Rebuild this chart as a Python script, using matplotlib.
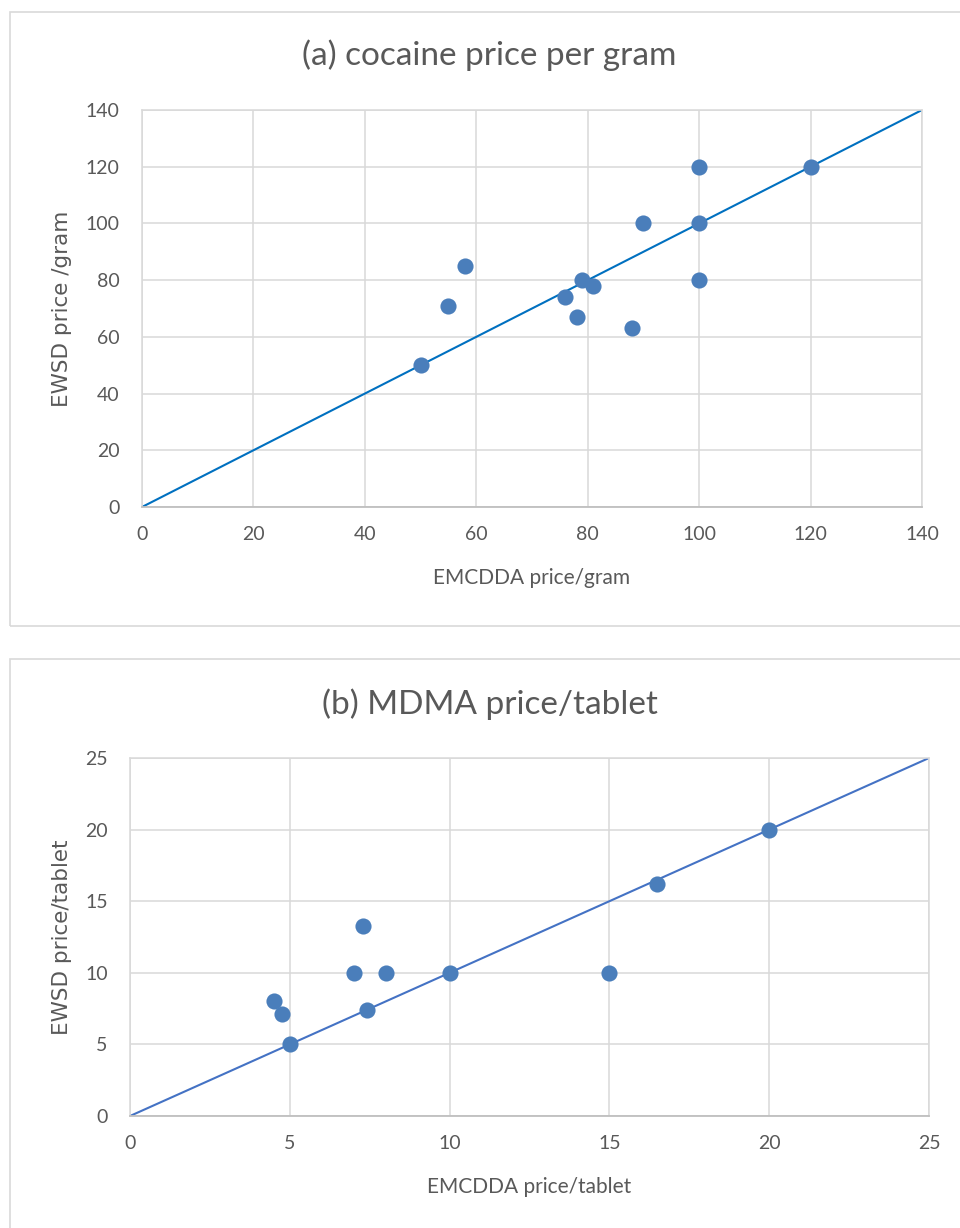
import matplotlib
matplotlib.use("Agg")
import matplotlib.pyplot as plt
from matplotlib.patches import Rectangle

# (a) cocaine price per gram
coke_emcdda = [50, 55, 58, 76, 78, 79, 81, 88, 90, 100, 100, 100, 120]
coke_ewsd = [50, 71, 85, 74, 67, 80, 78, 63, 100, 120, 100, 80, 120]
coke_ticks = [0, 20, 40, 60, 80, 100, 120, 140]

# (b) MDMA price per tablet
mdma_emcdda = [4.5, 4.75, 5, 7, 7.3, 7.4, 8, 10, 15, 16.5, 20]
mdma_ewsd = [8, 7.1, 5, 10, 13.3, 7.4, 10, 10, 10, 16.2, 20]
mdma_ticks = [0, 5, 10, 15, 20, 25]

TXT = "#595959"
GRID = "#d9d9d9"
DOT = "#4a7ebb"
FONT = ["Lato", "DejaVu Sans"]

plt.rcParams["font.family"] = FONT

W, H = 960, 1228
fig = plt.figure(figsize=(W / 100, H / 100), dpi=100)


def px_axes(x0, y0, x1, y1):
    return fig.add_axes([x0 / W, 1 - y1 / H, (x1 - x0) / W, (y1 - y0) / H])


def frame(y0, y1):
    fig.patches.append(Rectangle((10 / W, 1 - y1 / H), 960 / W, (y1 - y0) / H,
                                 transform=fig.transFigure, fill=False,
                                 edgecolor=GRID, lw=1.2))


def style(ax, ticks, line_col, title, xlabel, ylabel, title_y, xlab_y, ylab_x):
    lo, hi = ticks[0], ticks[-1]
    ax.plot([lo, hi], [lo, hi], color=line_col, lw=1.5, zorder=2)
    ax.set_xlim(lo, hi); ax.set_ylim(lo, hi)
    ax.set_xticks(ticks); ax.set_yticks(ticks)
    ax.grid(True, color=GRID, lw=1.1, zorder=0)
    ax.set_axisbelow(True)
    for s in ["top", "right", "left"]:
        ax.spines[s].set_color(GRID); ax.spines[s].set_linewidth(1.1)
    ax.spines["bottom"].set_color("#bfbfbf"); ax.spines["bottom"].set_linewidth(1.3)
    ax.tick_params(length=0, labelsize=14, labelcolor=TXT)
    ax.tick_params(axis="x", pad=14)
    ax.tick_params(axis="y", pad=16)
    fig.text(0.51, 1 - title_y / H, title, ha="center", va="center",
             fontsize=24, color=TXT)
    fig.text(0.5 * (ax.get_position().x0 + ax.get_position().x1), 1 - xlab_y / H,
             xlabel, ha="center", va="center", fontsize=15, color=TXT)
    fig.text(ylab_x / W, 0.5 * (ax.get_position().y0 + ax.get_position().y1),
             ylabel, ha="center", va="center", rotation=90, fontsize=15.5,
             color=TXT, family="DejaVu Sans")


frame(12, 626)
ax = px_axes(142, 110, 922, 507)
ax.scatter(coke_emcdda, coke_ewsd, s=135, color=DOT, zorder=3, linewidths=0)
style(ax, coke_ticks, "#0070c0", "(a) cocaine price per gram",
      "EMCDDA price/gram", "EWSD price /gram", 55, 578, 62)

frame(659, 1240)
ax = px_axes(130, 758, 929, 1116)
ax.scatter(mdma_emcdda, mdma_ewsd, s=135, color=DOT, zorder=3, linewidths=0)
style(ax, mdma_ticks, "#4472c4", "(b) MDMA price/tablet",
      "EMCDDA price/tablet", "EWSD price/tablet", 704, 1187, 62)

fig.savefig("out.png", dpi=100)
